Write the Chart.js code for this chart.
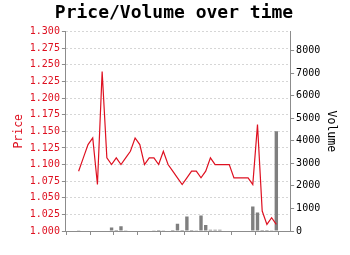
<!DOCTYPE html>
<html>
<head>
<meta charset="utf-8">
<script src="https://cdn.jsdelivr.net/npm/chart.js@4/dist/chart.umd.min.js"></script>
<style>
  html, body { margin: 0; padding: 0; background: #fff; }
  #wrap { width: 350px; height: 255px; }
</style>
</head>
<body>
<div id="wrap"><canvas id="myChart"></canvas></div>
<script>
// daily close price
const prices = [1.09, 1.11, 1.13, 1.14, 1.07, 1.24, 1.11, 1.10, 1.11, 1.10,
                1.11, 1.12, 1.14, 1.13, 1.10, 1.11, 1.11, 1.10, 1.12, 1.10,
                1.09, 1.08, 1.07, 1.08, 1.09, 1.09, 1.08, 1.09, 1.11, 1.10,
                1.10, 1.10, 1.10, 1.08, 1.08, 1.08, 1.08, 1.07, 1.16, 1.03,
                1.01, 1.02, 1.01];

// daily volume
const volumes = [30, 20, 0, 0, 0, 0, 0, 160, 40, 210,
                 30, 20, 0, 0, 0, 20, 30, 40, 30, 20,
                 40, 320, 40, 640, 40, 30, 690, 270, 60, 60,
                 50, 0, 0, 20, 20, 0, 0, 1090, 820, 40,
                 40, 30, 4420];

const priceTicks = { min: 1.0, max: 1.3, step: 0.025 };
// right axis runs a bit past its last labelled tick
const volumeMax = 8840;
const volumeTickValues = [0, 1000, 2000, 3000, 4000, 5000, 6000, 7000, 8000];

const red = 'rgb(222, 16, 32)';
const axisGrey = '#8c8c8c';
const gridGrey = '#d6d6d6';

Chart.defaults.font.family = "'DejaVu Sans Mono', monospace";
Chart.defaults.font.size = 10;
Chart.defaults.color = '#000';

// x is the day number, the axis is padded a bit on both sides
const days = prices.map((_, i) => i);

const ctx = document.getElementById('myChart');

new Chart(ctx, {
    data: {
        datasets: [{
            type: 'line',
            label: 'Price',
            data: days.map(d => ({ x: d, y: prices[d] })),
            borderColor: red,
            borderWidth: 1.2,
            pointRadius: 0,
            tension: 0,
            yAxisID: 'price',
            order: 0
        }, {
            type: 'bar',
            label: 'Volume',
            data: days.map(d => ({ x: d, y: volumes[d] })),
            backgroundColor: '#7f7f7f',
            borderWidth: 0,
            yAxisID: 'volume',
            order: 1
        }]
    },
    options: {
        responsive: true,
        maintainAspectRatio: false,
        animation: false,
        layout: { padding: { left: 8, right: 10, top: 0, bottom: 20 } },
        plugins: {
            legend: { display: false },
            tooltip: { enabled: false },
            title: {
                display: true,
                text: 'Price/Volume over time',
                color: '#000',
                font: { size: 18, weight: 'bold' },
                padding: { top: 3, bottom: 7 }
            }
        },
        scales: {
            x: {
                type: 'linear',
                min: -2.7,
                max: 44.93,
                offset: false,
                ticks: { display: false, stepSize: 5, includeBounds: false },
                grid: { drawOnChartArea: false, drawTicks: true, tickLength: 4, tickColor: axisGrey },
                border: { color: axisGrey }
            },
            price: {
                type: 'linear',
                position: 'left',
                min: priceTicks.min,
                max: priceTicks.max,
                ticks: {
                    stepSize: priceTicks.step,
                    color: red,
                    padding: 2,
                    callback: v => v.toFixed(3)
                },
                grid: { color: gridGrey, tickLength: 4, tickColor: axisGrey },
                border: { color: axisGrey, dash: [2, 2] },
                title: { display: true, text: 'Price', color: red, font: { size: 11.5 }, padding: { top: 4, bottom: 2 } }
            },
            volume: {
                type: 'linear',
                position: 'right',
                min: 0,
                max: volumeMax,
                afterBuildTicks: scale => {
                    scale.ticks = volumeTickValues.map(v => ({ value: v }));
                },
                ticks: { padding: 2, callback: v => String(v) },
                grid: { drawOnChartArea: false, tickLength: 4, tickColor: axisGrey },
                border: { color: axisGrey },
                title: { display: true, text: 'Volume', color: '#000', font: { size: 11.5 }, padding: { top: 2, bottom: 2 } }
            }
        }
    }
});
</script>
</body>
</html>
